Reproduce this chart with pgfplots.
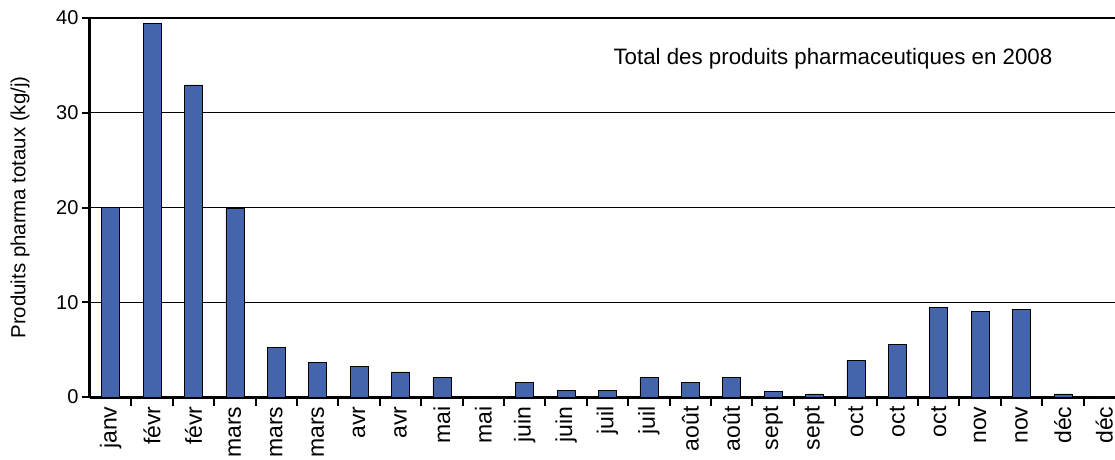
\documentclass[border=0pt]{standalone}
\usepackage{pgfplots}
\pgfplotsset{compat=1.18}
\usepackage{fontspec}
\setmainfont{Liberation Sans}
\definecolor{barblue}{RGB}{68,100,172}
\begin{document}
\begin{tikzpicture}
\begin{axis}[
  at={(0,0)}, anchor=south west,
  scale only axis, width=1035pt, height=379pt,
  xmin=-0.5, xmax=24.5, ymin=0, ymax=40,
  clip=false,
  axis x line*=bottom, axis y line*=left,
  axis line style={line width=3pt, -},
  ytick={0,10,20,30,40},
  ymajorgrids, grid style={black, line width=0.7pt},
  xtick={0.5,1.5,...,24.5},
  xticklabels={janv,févr,févr,mars,mars,mars,avr,avr,mai,mai,juin,juin,juil,juil,août,août,sept,sept,oct,oct,oct,nov,nov,déc,déc},
  xtick align=outside, ytick align=outside,
  xtick pos=bottom, ytick pos=left,
  major tick length=8pt,
  every tick/.append style={draw=black, line width=2pt},
  xticklabel style={xshift=-20.7pt, yshift=2pt, rotate=90, anchor=east, font=\fontsize{23}{27}\selectfont},
  yticklabel style={font=\fontsize{20}{24}\selectfont},
  /pgf/number format/assume math mode=true,
  every axis y label/.style={at={(axis description cs:-0.0676,0.5)}, rotate=90, anchor=center, font=\fontsize{20.4}{24}\selectfont},
  ylabel={Produits pharma totaux (kg/j)},
  ybar, bar width=18pt,
]
\addplot[fill=barblue, draw=black, line width=0.6pt] coordinates {
(0,20) (1,39.45) (2,32.95) (3,19.9) (4,5.23) (5,3.64) (6,3.22) (7,2.64)
(8,2.05) (9,0) (10,1.52) (11,0.68) (12,0.7) (13,2.05) (14,1.52) (15,2.05)
(16,0.57) (17,0.32) (18,3.84) (19,5.53) (20,9.47) (21,9.0) (22,9.25) (23,0.32) (24,0)
};
\pgfplotsinvokeforeach{0.5,1.5,...,23.5}{\draw[line width=2pt, black] (axis cs:#1,0) -- ++(0pt,-9pt);}
\pgfplotsinvokeforeach{0,10,20,30,40}{\draw[line width=2pt, black] (axis cs:-0.5,#1) -- ++(-7pt,0pt);}
\draw[line width=2pt, black] (axis cs:-0.5,40) -- (axis cs:24.5,40);
\node[anchor=base west, font=\fontsize{22.3}{26}\selectfont] at (rel axis cs:0.5024,0.876) {Total des produits pharmaceutiques en 2008};
\end{axis}
\pgfresetboundingbox
\path[use as bounding box] (-90pt,-62pt) rectangle (1025pt,397pt);
\end{tikzpicture}
\end{document}
